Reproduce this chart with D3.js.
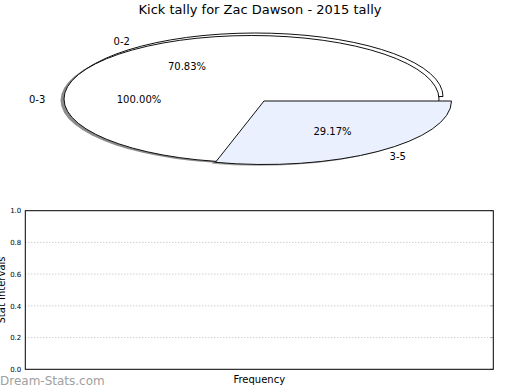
<!DOCTYPE html>
<html>
<head>
<meta charset="utf-8">
<script src="https://cdn.jsdelivr.net/npm/d3@7"></script>
<style>
  html, body { margin: 0; padding: 0; background: #fff; }
  svg { display: block; font-family: "DejaVu Sans", sans-serif; }
</style>
</head>
<body>
<svg id="chart" width="520" height="390"></svg>
<script>
// ---- data ----
const title = "Kick tally for Zac Dawson - 2015 tally";
const outerCategories = ["0-3"];
const outerValues = [24];
const innerCategories = ["0-2", "3-5"];
const innerValues = [17, 7];
const sliceColors = ["#ffffff", "#eaf0fd"];
const yTicks = [0.0, 0.2, 0.4, 0.6, 0.8, 1.0];
const yLabel = "Stat Intervals";
const xLabel = "Frequency";
const watermark = "Dream-Stats.com";

const svg = d3.select("#chart");

// title
svg.append("text").attr("x", 260).attr("y", 14).attr("text-anchor", "middle")
  .attr("font-size", 13).attr("fill", "#000").text(title);

// ---- pie geometry ----
const rx = 187.5, ry = 63.5;
const shadowDx = -3.5, shadowDy = 1.3;
const pieGen = d3.pie().sort(null).startAngle(Math.PI / 2).endAngle(Math.PI / 2 - 2 * Math.PI);
const arcGen = d3.arc().innerRadius(0).outerRadius(1);

const outerArcs = pieGen(outerValues).map((d, i) => ({...d, label: outerCategories[i], total: d3.sum(outerValues), center: [251.5, 99], fill: "#ffffff"}));
const innerArcsAll = pieGen(innerValues).map((d, i) => ({...d, label: innerCategories[i], total: d3.sum(innerValues), fill: sliceColors[i]}));
innerArcsAll[0].center = [255.5, 96.5];
innerArcsAll[1].center = [264, 101];

function wedge(g, d, cx, cy, fill, stroke, opacity) {
  g.append("path")
    .attr("d", arcGen(d))
    .attr("transform", `translate(${cx},${cy}) scale(${rx},${ry})`)
    .attr("fill", fill)
    .attr("fill-opacity", opacity == null ? 1 : opacity)
    .attr("stroke", stroke)
    .attr("stroke-width", stroke === "none" ? 0 : 1)
    .attr("vector-effect", "non-scaling-stroke")
    .attr("stroke-linejoin", "round");
}

const pieG = svg.append("g");
const s02 = innerArcsAll[0], s35 = innerArcsAll[1], s03 = outerArcs[0];
wedge(pieG, s02, s02.center[0] + shadowDx, s02.center[1] + shadowDy, "#000", "none", 0.35);
wedge(pieG, s02, s02.center[0], s02.center[1], s02.fill, "#111");
wedge(pieG, s35, s35.center[0] + shadowDx, s35.center[1] + shadowDy, "#000", "none", 0.35);
wedge(pieG, s03, s03.center[0] + shadowDx, s03.center[1] + shadowDy, "#000", "none", 0.45);
wedge(pieG, s03, s03.center[0], s03.center[1], s03.fill, "#111");
wedge(pieG, s35, s35.center[0], s35.center[1], s35.fill, "#111");

function addLabels(d) {
  const mid = (d.startAngle + d.endAngle) / 2;
  const ux = Math.sin(mid), uy = -Math.cos(mid);
  const [cx, cy] = d.center;
  const lx = cx + 1.1 * rx * ux, ly = cy + 1.1 * ry * uy;
  svg.append("text").attr("x", lx).attr("y", ly + 3.6)
    .attr("text-anchor", ux < 0 ? "end" : "start")
    .attr("font-size", 10).attr("fill", "#000").text(d.label);
  const px = cx + 0.6 * rx * ux, py = cy + 0.6 * ry * uy;
  svg.append("text").attr("x", px).attr("y", py + 3.6)
    .attr("text-anchor", "middle")
    .attr("font-size", 10).attr("fill", "#000")
    .text((d.value / d.total * 100).toFixed(2) + "%");
}
[s02, s03, s35].forEach(addLabels);

// ---- bottom axes ----
const axLeft = 25.3, axRight = 493.3, axTop = 210.7, axBottom = 369.3;
const y = d3.scaleLinear().domain([0, 1]).range([axBottom, axTop]);

svg.append("g").selectAll("line").data(yTicks.filter(t => t > 0 && t < 1)).join("line")
  .attr("x1", axLeft).attr("x2", axRight)
  .attr("y1", d => y(d)).attr("y2", d => y(d))
  .attr("stroke", "#b8b8b8").attr("stroke-width", 1).attr("stroke-dasharray", "1,2");

svg.append("g").selectAll("line").data(yTicks).join("line")
  .attr("x1", axRight - 3).attr("x2", axRight)
  .attr("y1", d => y(d)).attr("y2", d => y(d))
  .attr("stroke", "#aaa").attr("stroke-width", 1);

const yAxis = d3.axisLeft(y).tickValues(yTicks).tickSize(0).tickPadding(4).tickFormat(d3.format(".1f"));
const yAxisG = svg.append("g").attr("transform", `translate(${axLeft},0)`).call(yAxis);
yAxisG.select(".domain").remove();
yAxisG.selectAll("text").attr("font-size", 7).attr("fill", "#000").attr("font-family", "DejaVu Sans");

svg.append("rect").attr("x", axLeft).attr("y", axTop)
  .attr("width", axRight - axLeft).attr("height", axBottom - axTop)
  .attr("fill", "none").attr("stroke", "#000").attr("stroke-width", 1);

svg.append("text").attr("transform", `translate(5,${(axTop + axBottom) / 2}) rotate(-90)`)
  .attr("text-anchor", "middle").attr("font-size", 10).attr("fill", "#000").text(yLabel);

svg.append("text").attr("x", (axLeft + axRight) / 2).attr("y", 382.5)
  .attr("text-anchor", "middle").attr("font-size", 10).attr("fill", "#000").text(xLabel);

svg.append("text").attr("x", 0).attr("y", 384.5)
  .attr("font-size", 12).attr("fill", "#a0a0a0").text(watermark);
</script>
</body>
</html>
